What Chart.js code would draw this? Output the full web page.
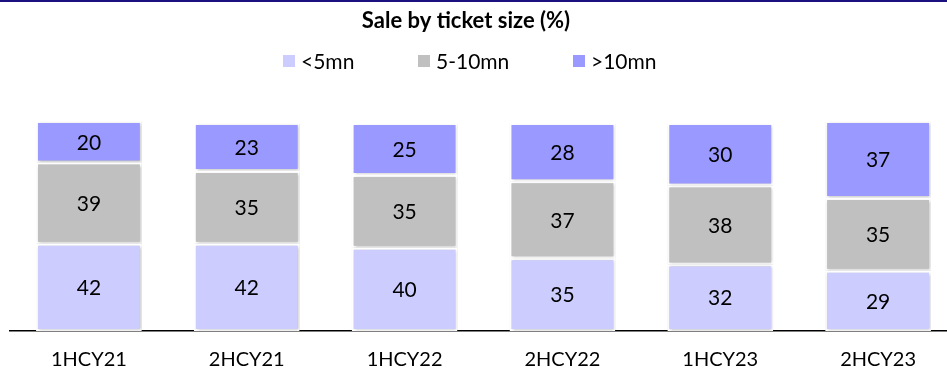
<!DOCTYPE html>
<html>
<head>
<meta charset="utf-8">
<script src="https://cdn.jsdelivr.net/npm/chart.js@4"></script>
<style>
  html, body { margin: 0; padding: 0; background: #fff; overflow: hidden; }
  #wrap { width: 947px; height: 371px; position: relative; overflow: hidden; }
  #topline { position: absolute; left: 0; top: 0; width: 947px; height: 2px; background: #1a1080; z-index: 2; }
  canvas { position: absolute; left: 0; top: 0; }
</style>
</head>
<body>
<div id="wrap">
  <div id="topline"></div>
  <canvas id="ticketChart" width="960" height="381"></canvas>
</div>
<script>
const periods = ['1HCY21', '2HCY21', '1HCY22', '2HCY22', '1HCY23', '2HCY23'];
const below5 = [42, 42, 40, 35, 32, 29];
const mid5to10 = [39, 35, 35, 37, 38, 35];
const above10 = [20, 23, 25, 28, 30, 37];

const FONT = 'Lato, "Open Sans", sans-serif';
const TITLE = 'Sale by ticket size (%)';

// write each value in the middle of its segment
const segmentLabels = {
    id: 'segmentLabels',
    afterDatasetsDraw(chart) {
        const ctx = chart.ctx;
        ctx.save();
        ctx.font = '21px ' + FONT;
        ctx.fillStyle = '#000';
        ctx.textAlign = 'center';
        ctx.textBaseline = 'middle';
        chart.data.datasets.forEach((ds, i) => {
            chart.getDatasetMeta(i).data.forEach((bar, j) => {
                const y = (bar.y + bar.base) / 2;
                ctx.fillText(ds.data[j], bar.x, y + 1);
            });
        });
        ctx.restore();
    }
};

// title + legend row drawn by hand so the spacing matches
const header = {
    id: 'header',
    afterDraw(chart) {
        const ctx = chart.ctx;
        ctx.save();
        ctx.fillStyle = '#000';
        ctx.textBaseline = 'middle';
        ctx.textAlign = 'center';
        ctx.font = 'bold 22px ' + FONT;
        ctx.fillText(TITLE, 466, 21);

        const boxX = [283, 418, 573];
        ctx.textAlign = 'left';
        ctx.font = '21px ' + FONT;
        chart.data.datasets.forEach((ds, i) => {
            ctx.fillStyle = ds.backgroundColor;
            ctx.fillRect(boxX[i], 55, 12, 12);
            ctx.fillStyle = '#000';
            ctx.fillText(ds.label, boxX[i] + 18, 62);
        });
        ctx.restore();
    }
};

const barShadow = {
    id: 'barShadow',
    beforeDatasetsDraw(chart) {
        const ctx = chart.ctx;
        ctx.save();
        ctx.shadowColor = 'rgba(0,0,0,0.25)';
        ctx.shadowBlur = 3;
        ctx.shadowOffsetX = 1;
        ctx.shadowOffsetY = 1;
    },
    afterDatasetsDraw(chart) {
        chart.ctx.restore();
    }
};

new Chart(document.getElementById('ticketChart').getContext('2d'), {
    type: 'bar',
    data: {
        labels: periods,
        datasets: [
            { label: '<5mn', data: below5, backgroundColor: '#ccccff' },
            { label: '5-10mn', data: mid5to10, backgroundColor: '#c0c0c0' },
            { label: '>10mn', data: above10, backgroundColor: '#9999ff' }
        ]
    },
    options: {
        responsive: false,
        animation: false,
        layout: { padding: { left: 10, right: 3, top: 121, bottom: 0 } },
        datasets: {
            bar: {
                categoryPercentage: 0.67,
                barPercentage: 1,
                borderColor: '#ffffff',
                borderWidth: 2,
                borderSkipped: false
            }
        },
        plugins: {
            title: { display: false },
            legend: { display: false },
            tooltip: { enabled: false }
        },
        scales: {
            x: {
                stacked: true,
                grid: { display: false },
                border: { display: true, color: '#000', width: 1.5 },
                ticks: { color: '#000', font: { family: FONT, size: 20 }, padding: 9 }
            },
            y: {
                stacked: true,
                display: false,
                min: 0,
                max: 101
            }
        }
    },
    plugins: [barShadow, segmentLabels, header]
});
</script>
</body>
</html>
